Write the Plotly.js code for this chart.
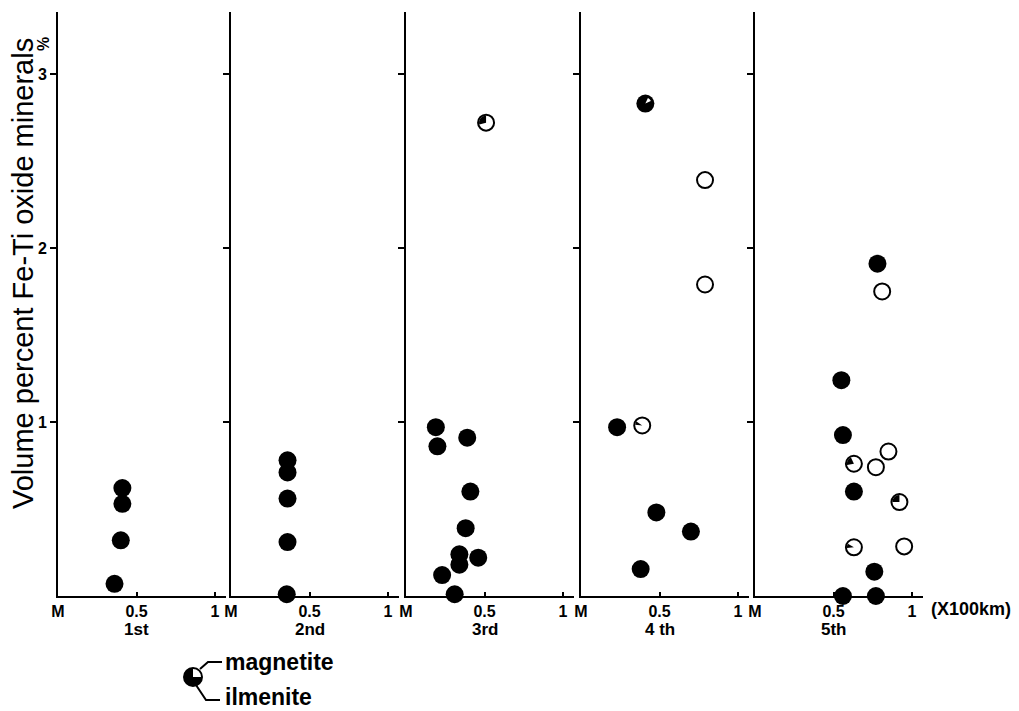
<!DOCTYPE html>
<html>
<head>
<meta charset="utf-8">
<script src="https://cdn.plot.ly/plotly-3.0.1.min.js"></script>
<style>html,body{margin:0;padding:0;background:#fff;}#chart{width:1019px;height:711px;}</style>
</head>
<body>
<div id="chart"></div>
<script>
// ---------- data ----------
const panelNames = ["1st", "2nd", "3rd", "4 th", "5th"];
const xTickVals = [0, 0.5, 1];
const xTickText = ["M", "0.5", "1"];
const yTickVals = [1, 2, 3];

// filled (black) circles, per panel
const filledX1 = [0.41, 0.41, 0.40, 0.36];
const filledY1 = [0.62, 0.53, 0.32, 0.07];
const filledX2 = [0.36, 0.36, 0.36, 0.36, 0.355];
const filledY2 = [0.78, 0.71, 0.56, 0.31, 0.01];
const filledX3 = [0.19, 0.20, 0.39, 0.41, 0.38, 0.34, 0.46, 0.34, 0.23, 0.31];
const filledY3 = [0.97, 0.86, 0.91, 0.60, 0.39, 0.24, 0.22, 0.18, 0.12, 0.01];
const filledX4 = [0.41, 0.23, 0.48, 0.70, 0.38];
const filledY4 = [2.83, 0.97, 0.48, 0.37, 0.155];
const filledX5 = [0.78, 0.55, 0.56, 0.63, 0.76, 0.56, 0.77];
const filledY5 = [1.91, 1.24, 0.925, 0.60, 0.14, 0.0, 0.0];

// open circles, per panel
const openX3 = [0.51];
const openY3 = [2.72];
const openX4 = [0.79, 0.79, 0.39];
const openY4 = [2.39, 1.79, 0.98];
const openX5 = [0.81, 0.85, 0.63, 0.77, 0.92, 0.63, 0.95];
const openY5 = [1.75, 0.83, 0.76, 0.74, 0.54, 0.28, 0.285];

// partial-fill sectors drawn inside circles (panel, x, y, start deg, end deg, colour)
const wedgePanel = [3, 4, 4, 5, 5, 5];
const wedgeX = [0.51, 0.41, 0.39, 0.63, 0.92, 0.63];
const wedgeY = [2.72, 2.83, 0.98, 0.76, 0.54, 0.28];
const wedgeA1 = [90, 25, 145, 115, 90, 150];
const wedgeA2 = [195, 65, 175, 190, 180, 185];
const wedgeColor = ["black", "white", "black", "black", "black", "black"];

// ---------- layout geometry ----------
const W = 1019, H = 711;
const panelLeft = [58, 231, 406, 581, 755];
const unitPx = 157;
const xMax = 1.07;
const yMax = 3.356;
const yDomain = [(H - 596) / H, (H - 12) / H];

const filledX = [filledX1, filledX2, filledX3, filledX4, filledX5];
const filledY = [filledY1, filledY2, filledY3, filledY4, filledY5];
const openX = [[], [], openX3, openX4, openX5];
const openY = [[], [], openY3, openY4, openY5];

const FAM = "Liberation Sans, Arial, sans-serif";
const tickFont = {family: FAM, size: 16, color: "black", weight: "bold"};
const panelFont = {family: FAM, size: 17, color: "black", weight: "bold"};

const traces = [];
const layout = {
  width: W, height: H,
  margin: {l: 0, r: 0, t: 0, b: 0},
  paper_bgcolor: "white", plot_bgcolor: "white",
  showlegend: false,
  annotations: [], shapes: []
};

for (let i = 0; i < 5; i++) {
  const s = i === 0 ? "" : String(i + 1);
  const x0 = panelLeft[i];
  layout["xaxis" + s] = {
    domain: [x0 / W, (x0 + xMax * unitPx) / W],
    range: [0, xMax], anchor: "y" + s,
    showline: true, linecolor: "black", linewidth: 2,
    showgrid: false, zeroline: false,
    tickmode: "array", tickvals: xTickVals, ticktext: xTickText,
    ticks: "inside", ticklen: 4, tickwidth: 2, tickcolor: "black",
    tickfont: tickFont, fixedrange: true
  };
  layout["yaxis" + s] = {
    domain: yDomain, range: [0, yMax], anchor: "x" + s,
    showline: true, linecolor: "black", linewidth: 2,
    showgrid: false, zeroline: false,
    tickmode: "array", tickvals: yTickVals,
    ticks: "outside", ticklen: 6, tickwidth: 2, tickcolor: "black",
    showticklabels: i === 0, tickfont: tickFont, fixedrange: true
  };
  traces.push({
    type: "scatter", mode: "markers", xaxis: "x" + s, yaxis: "y" + s,
    x: filledX[i], y: filledY[i], cliponaxis: false, hoverinfo: "skip",
    marker: {symbol: "circle", size: 18, color: "black", line: {width: 0}}
  });
  if (openX[i].length) {
    traces.push({
      type: "scatter", mode: "markers", xaxis: "x" + s, yaxis: "y" + s,
      x: openX[i], y: openY[i], cliponaxis: false, hoverinfo: "skip",
      marker: {symbol: "circle", size: 16, color: "white", line: {width: 2, color: "black"}}
    });
  }
  layout.annotations.push({
    xref: "x" + s, yref: "paper", x: 0.5, y: (H - 629) / H,
    text: panelNames[i], showarrow: false, xanchor: "center", yanchor: "middle",
    font: panelFont
  });
}

function wedgePath(a1, a2, r) {
  let p = "M0,0";
  const n = 16;
  for (let k = 0; k <= n; k++) {
    const a = (a1 + (a2 - a1) * k / n) * Math.PI / 180;
    p += " L" + (r * Math.cos(a)).toFixed(2) + "," + (r * Math.sin(a)).toFixed(2);
  }
  return p + " Z";
}

for (let k = 0; k < wedgeX.length; k++) {
  const s = wedgePanel[k] === 1 ? "" : String(wedgePanel[k]);
  layout.shapes.push({
    type: "path", xref: "x" + s, yref: "y" + s,
    xsizemode: "pixel", ysizemode: "pixel",
    xanchor: wedgeX[k], yanchor: wedgeY[k],
    path: wedgePath(wedgeA1[k], wedgeA2[k], wedgeColor[k] === "white" ? 6 : 7),
    fillcolor: wedgeColor[k], line: {width: 0}, layer: "above"
  });
}

// y title and unit
layout.annotations.push({
  xref: "paper", yref: "paper", x: 23 / W, y: (H - 274) / H,
  text: "Volume percent Fe-Ti oxide minerals", textangle: -90, showarrow: false,
  xanchor: "center", yanchor: "middle",
  font: {family: FAM, size: 29, color: "black"}
});
layout.annotations.push({
  xref: "paper", yref: "paper", x: 44 / W, y: (H - 44) / H,
  text: "%", textangle: -90, showarrow: false, xanchor: "center", yanchor: "middle",
  font: {family: FAM, size: 16, color: "black", weight: "bold"}
});
// x unit
layout.annotations.push({
  xref: "paper", yref: "paper", x: 929 / W, y: (H - 609) / H,
  text: "(X100km)", showarrow: false, xanchor: "left", yanchor: "middle",
  font: {family: FAM, size: 18, color: "black", weight: "bold"}
});

// legend key
const fx = px => px / W, fy = py => (H - py) / H;
const lc = [193, 677], lr = 9;
layout.shapes.push({
  type: "circle", xref: "paper", yref: "paper",
  x0: fx(lc[0] - lr), x1: fx(lc[0] + lr), y0: fy(lc[1] + lr), y1: fy(lc[1] - lr),
  fillcolor: "white", line: {color: "black", width: 2}
});
layout.shapes.push({
  type: "path", xref: "paper", yref: "paper",
  xsizemode: "pixel", ysizemode: "pixel", xanchor: fx(lc[0]), yanchor: fy(lc[1]),
  path: wedgePath(90, 360, lr), fillcolor: "black", line: {width: 0}
});
function pline(pts) {
  return pts.map((p, j) => (j ? "L" : "M") + fx(p[0]).toFixed(5) + "," + fy(p[1]).toFixed(5)).join(" ");
}
layout.shapes.push({type: "path", xref: "paper", yref: "paper",
  path: pline([[200, 669], [208, 662], [222, 662]]), line: {color: "black", width: 2}});
layout.shapes.push({type: "path", xref: "paper", yref: "paper",
  path: pline([[196, 685], [206, 700], [220, 700]]), line: {color: "black", width: 2}});
const legFont = {family: FAM, size: 23, color: "black", weight: "bold"};
layout.annotations.push({xref: "paper", yref: "paper", x: fx(223), y: fy(662),
  text: "magnetite", showarrow: false, xanchor: "left", yanchor: "middle", font: legFont});
layout.annotations.push({xref: "paper", yref: "paper", x: fx(223), y: fy(697),
  text: "ilmenite", showarrow: false, xanchor: "left", yanchor: "middle", font: legFont});

Plotly.newPlot("chart", traces, layout, {displayModeBar: false, staticPlot: true});
</script>
</body>
</html>
